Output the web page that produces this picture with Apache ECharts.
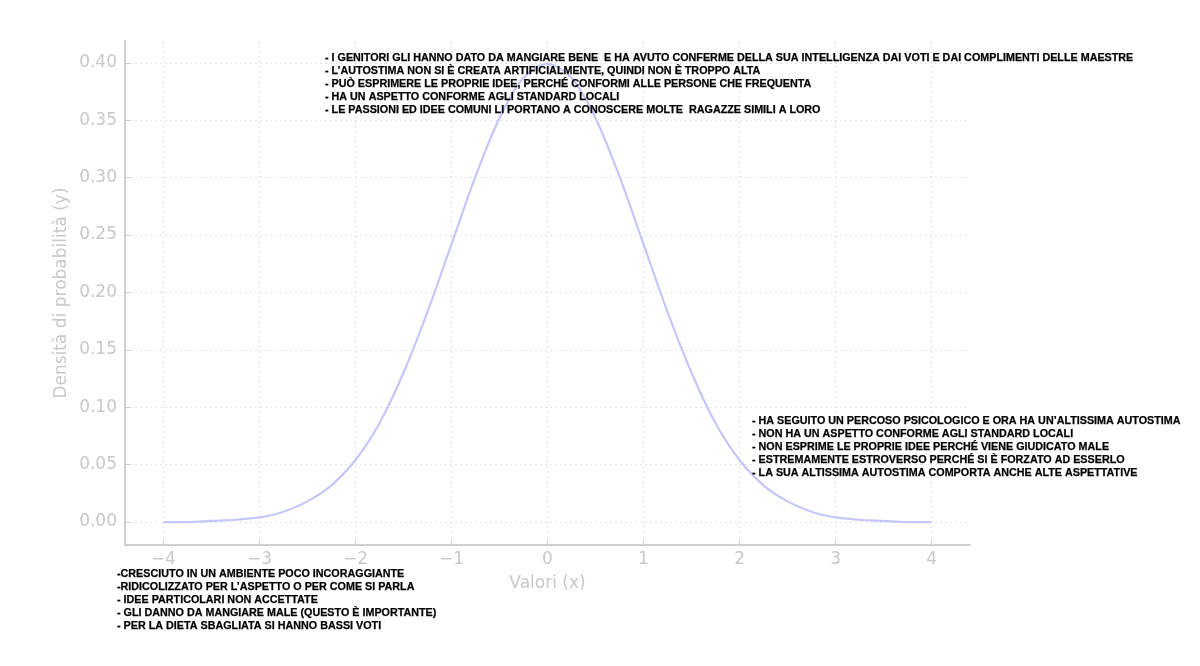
<!DOCTYPE html>
<html><head><meta charset="utf-8">
<script src="https://cdn.jsdelivr.net/npm/echarts@6/dist/echarts.min.js"></script>
<style>html,body{margin:0;background:#fff}#c{width:1200px;height:666px}</style>
</head><body><div id="c"></div>
<script>
// Data (normal density curve)
const xValues = [-4,-3.75,-3.5,-3.25,-3,-2.75,-2.5,-2.25,-2,-1.75,-1.5,-1.25,-1,-0.75,-0.5,-0.25,0,0.25,0.5,0.75,1,1.25,1.5,1.75,2,2.25,2.5,2.75,3,3.25,3.5,3.75,4];
const yValues = [0.000,0.000,0.001,0.002,0.004,0.009,0.018,0.032,0.054,0.086,0.130,0.183,0.242,0.301,0.352,0.387,0.399,0.387,0.352,0.301,0.242,0.183,0.130,0.086,0.054,0.032,0.018,0.009,0.004,0.002,0.001,0.000,0.000];
const xTicks = [-4,-3,-2,-1,0,1,2,3,4];
const yTicks = [0,0.05,0.10,0.15,0.20,0.25,0.30,0.35,0.40];
const xTitle = 'Valori (x)';
const yTitle = 'Densità di probabilità (y)';
const topNotes = [
  '- I GENITORI GLI HANNO DATO DA MANGIARE BENE  E HA AVUTO CONFERME DELLA SUA INTELLIGENZA DAI VOTI E DAI COMPLIMENTI DELLE MAESTRE',
  '- L\u2019AUTOSTIMA NON SI È CREATA ARTIFICIALMENTE, QUINDI NON È TROPPO ALTA',
  '- PUÒ ESPRIMERE LE PROPRIE IDEE, PERCHÉ CONFORMI ALLE PERSONE CHE FREQUENTA',
  '- HA UN ASPETTO CONFORME AGLI STANDARD LOCALI',
  '- LE PASSIONI ED IDEE COMUNI LI PORTANO A CONOSCERE MOLTE  RAGAZZE SIMILI A LORO'
];
const rightNotes = [
  '- HA SEGUITO UN PERCOSO PSICOLOGICO E ORA HA UN\u2019ALTISSIMA AUTOSTIMA',
  '- NON HA UN ASPETTO CONFORME AGLI STANDARD LOCALI',
  '- NON ESPRIME LE PROPRIE IDEE PERCHÉ VIENE GIUDICATO MALE',
  '- ESTREMAMENTE ESTROVERSO PERCHÉ SI È FORZATO AD ESSERLO',
  '- LA SUA ALTISSIMA AUTOSTIMA COMPORTA ANCHE ALTE ASPETTATIVE'
];
const leftNotes = [
  '-CRESCIUTO IN UN AMBIENTE POCO INCORAGGIANTE',
  '-RIDICOLIZZATO PER L\u2019ASPETTO O PER COME SI PARLA',
  '- IDEE PARTICOLARI NON ACCETTATE',
  '- GLI DANNO DA MANGIARE MALE (QUESTO È IMPORTANTE)',
  '- PER LA DIETA SBAGLIATA SI HANNO BASSI VOTI'
];

const chart = echarts.init(document.getElementById('c'), null, {renderer: 'canvas'});
const grey = '#cfcfcf';
const labelFont = {color: '#c8c8c8', fontSize: 17, fontFamily: 'DejaVu Sans'};
const noteStyle = (lines, x, y) => ({
  type: 'text', x: x, y: y, z: 100,
  scaleX: 0.978, originX: 0, originY: 0,
  style: {
    text: lines.join('\n'), fill: '#000',
    stroke: '#000', lineWidth: 0.25,
    font: 'bold 11px "Liberation Sans", Arial, sans-serif',
    lineHeight: 13, textVerticalAlign: 'top'
  }
});

chart.setOption({
  backgroundColor: '#fff',
  animation: false,
  grid: {left: 125, right: 230, top: 41, bottom: 121, containLabel: false},
  xAxis: {
    type: 'value', min: -4.4, max: 4.4,
    name: xTitle, nameLocation: 'middle', nameGap: 30, nameMoveOverlap: false,
    nameTextStyle: {color: '#c8c8c8', fontSize: 17, fontFamily: 'DejaVu Sans'},
    axisLine: {show: true, onZero: false, lineStyle: {color: grey, width: 2}},
    axisTick: {show: true, inside: true, length: 5, customValues: xTicks, lineStyle: {color: grey, width: 1}},
    axisLabel: Object.assign({margin: 6, customValues: xTicks, formatter: v => String(v).replace('-', '\u2212')}, labelFont),
    splitLine: {show: true, lineStyle: {color: '#e4e4e4', width: 1, type: [2, 3]}}
  },
  yAxis: {
    type: 'value', min: -0.02, max: 0.419,
    name: yTitle, nameLocation: 'middle', nameGap: 55, nameRotate: 90, nameMoveOverlap: false,
    nameTextStyle: {color: '#c8c8c8', fontSize: 17, fontFamily: 'DejaVu Sans'},
    axisLine: {show: true, onZero: false, lineStyle: {color: grey, width: 2}},
    axisTick: {show: true, inside: true, length: 5, customValues: yTicks, lineStyle: {color: grey, width: 1}},
    axisLabel: Object.assign({margin: 8, padding: [3, 0, 0, 0], customValues: yTicks, formatter: v => v.toFixed(2)}, labelFont),
    splitLine: {show: true, lineStyle: {color: '#e4e4e4', width: 1, type: [2, 3]}}
  },
  series: [{
    type: 'line',
    data: xValues.map((x, i) => [x, yValues[i]]),
    showSymbol: false, smooth: 0.3,
    lineStyle: {color: '#c6c6f8', width: 2.2},
    z: 2
  }],
  graphic: [
    noteStyle(topNotes, 325, 51),
    noteStyle(rightNotes, 752, 414),
    noteStyle(leftNotes, 117, 567)
  ]
});
</script>
</body></html>
